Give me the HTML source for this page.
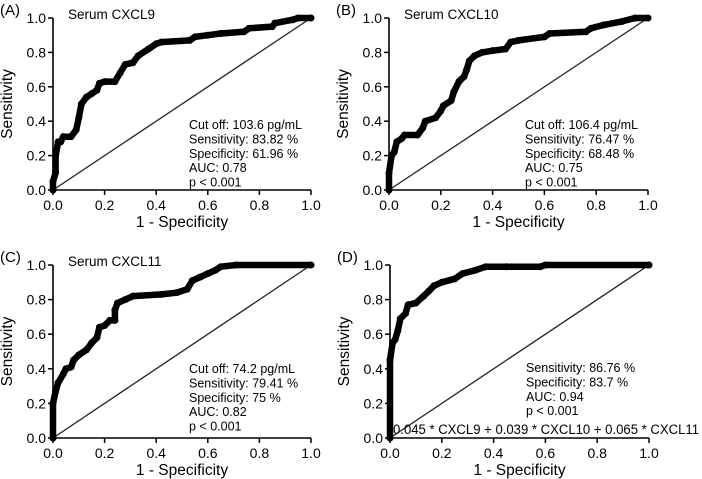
<!DOCTYPE html>
<html><head><meta charset="utf-8"><style>
html,body{margin:0;padding:0;background:#fff}
svg{display:block;font-family:"Liberation Sans",Arial,sans-serif}
</style></head><body>
<svg id="c" width="702" height="479" viewBox="0 0 702 479"></svg>
<script>
const ticks=[0,0.2,0.4,0.6,0.8,1.0];
const tickLabels=["0.0","0.2","0.4","0.6","0.8","1.0"];
const fprA=[0,0,0.01,0.01,0.02,0.03,0.04,0.07,0.09,0.1,0.11,0.13,0.15,0.17,0.18,0.2,0.24,0.26,0.28,0.31,0.33,0.37,0.4,0.42,0.53,0.55,0.6,0.65,0.74,0.76,0.85,0.86,0.93,0.95,1];
const tprA=[0,0.05,0.1,0.2,0.28,0.28,0.31,0.31,0.35,0.42,0.5,0.54,0.56,0.58,0.62,0.63,0.63,0.68,0.73,0.74,0.78,0.82,0.85,0.86,0.87,0.89,0.9,0.91,0.92,0.94,0.95,0.97,0.99,1,1];
const fprB=[0,0,0.01,0.02,0.03,0.05,0.06,0.11,0.13,0.14,0.18,0.2,0.21,0.24,0.25,0.27,0.29,0.3,0.31,0.33,0.36,0.4,0.45,0.47,0.5,0.6,0.62,0.76,0.78,0.83,0.9,0.95,1];
const tprB=[0,0.1,0.2,0.22,0.28,0.3,0.32,0.32,0.36,0.4,0.42,0.46,0.49,0.52,0.57,0.63,0.66,0.7,0.75,0.78,0.8,0.81,0.82,0.86,0.87,0.89,0.91,0.92,0.94,0.96,0.98,1,1];
const fprC=[0,0,0.01,0.02,0.04,0.05,0.07,0.08,0.1,0.13,0.15,0.17,0.18,0.2,0.22,0.24,0.24,0.25,0.28,0.31,0.42,0.48,0.52,0.54,0.57,0.6,0.63,0.65,0.71,1];
const tprC=[0,0.2,0.27,0.32,0.37,0.4,0.41,0.45,0.48,0.51,0.55,0.58,0.64,0.65,0.68,0.68,0.74,0.78,0.8,0.82,0.83,0.84,0.86,0.91,0.93,0.95,0.97,0.99,1,1];
const fprD=[0,0,0.01,0.02,0.03,0.04,0.06,0.07,0.1,0.13,0.15,0.17,0.2,0.25,0.28,0.33,0.37,0.45,0.58,0.6,1];
const tprD=[0,0.45,0.55,0.57,0.62,0.69,0.72,0.77,0.78,0.82,0.85,0.88,0.9,0.92,0.95,0.97,0.99,0.99,0.99,1,1];
const NS="http://www.w3.org/2000/svg";
const svg=document.getElementById('c');
function mk(tag,attrs,parent,text){const e=document.createElementNS(NS,tag);for(const k in attrs)e.setAttribute(k,attrs[k]);if(text!==undefined)e.textContent=text;parent.appendChild(e);return e;}
const panels=[
 {id:'a',letter:'(A)',x0:53,x1:311,y0:190,y1:18,title:'Serum CXCL9',fpr:fprA,tpr:tprA,tx:189,ty:129,lines:['Cut off: 103.6 pg/mL','Sensitivity: 83.82 %','Specificity: 61.96 %','AUC: 0.78','p < 0.001']},
 {id:'b',letter:'(B)',x0:389,x1:648,y0:190,y1:18,title:'Serum CXCL10',fpr:fprB,tpr:tprB,tx:525,ty:129,lines:['Cut off: 106.4 pg/mL','Sensitivity: 76.47 %','Specificity: 68.48 %','AUC: 0.75','p < 0.001']},
 {id:'c',letter:'(C)',x0:53,x1:311,y0:438,y1:265,title:'Serum CXCL11',fpr:fprC,tpr:tprC,tx:189,ty:373,lines:['Cut off: 74.2 pg/mL','Sensitivity: 79.41 %','Specificity: 75 %','AUC: 0.82','p < 0.001']},
 {id:'d',letter:'(D)',x0:390,x1:649,y0:438,y1:265,title:'',fpr:fprD,tpr:tprD,tx:526,ty:372,lines:['Sensitivity: 86.76 %','Specificity: 83.7 %','AUC: 0.94','p < 0.001']}
];
panels.forEach(p=>{
 const g=mk('g',{},svg);
 
 
 const sx=v=>p.x0+v*(p.x1-p.x0), sy=v=>p.y0+v*(p.y1-p.y0);
 const lab=mk('text',{x:p.x0-53,y:p.y1-3,'font-size':15},g,p.letter);
 
 
 const dg=mk('line',{x1:sx(0),y1:sy(0),x2:sx(1),y2:sy(1),stroke:'#222','stroke-width':1.3},g);
 
 
 const ax=mk('path',{d:`M${sx(0)},${sy(1)}V${sy(0)}H${sx(1)}`,stroke:'#000','stroke-width':1.6,fill:'none'},g);
 
 
 ticks.forEach((t,i)=>{
  mk('line',{x1:sx(t),y1:sy(0),x2:sx(t),y2:sy(0)+5,stroke:'#000','stroke-width':1.5},g);
  mk('line',{x1:sx(0)-5,y1:sy(t),x2:sx(0),y2:sy(t),stroke:'#000','stroke-width':1.5},g);
  const xt=mk('text',{x:sx(t),y:sy(0)+20,'font-size':14,'text-anchor':'middle'},g,tickLabels[i]);
  
  
  const yt=mk('text',{x:sx(0)-7,y:sy(t)+5,'font-size':14,'text-anchor':'end'},g,tickLabels[i]);
  
  
 });
 const xtl=mk('text',{x:(sx(0)+sx(1))/2,y:sy(0)+37,'font-size':15.5,'text-anchor':'middle'},g,'1 - Specificity');
 
 
 const ym=(sy(0)+sy(1))/2, yx=p.x0-41;
 const ytl=mk('text',{x:yx,y:ym,'font-size':15.5,'text-anchor':'middle',transform:`rotate(-90 ${yx} ${ym})`},g,'Sensitivity');
 
 
 if(p.title){const tt=mk('text',{x:p.x0+15,y:p.y1+1,'font-size':13.5},g,p.title);
  
  }
 const d=p.fpr.map((f,i)=>(i?'L':'M')+sx(f).toFixed(1)+','+sy(p.tpr[i]).toFixed(1)).join('');
 const cv=mk('path',{d:d,stroke:'#000','stroke-width':6.5,fill:'none','stroke-linejoin':'round','stroke-linecap':'round'},g);
 
 
 p.fpr.forEach((f,i)=>{const c=mk('circle',{cx:sx(f),cy:sy(p.tpr[i]),r:3.5,fill:'#000'},g);
  
  });
 const st=mk('g',{},g);
 
 
 p.lines.forEach((l,i)=>mk('text',{x:p.tx,y:p.ty+i*14.4,'font-size':12.5},st,l));
 if(p.id==='d'){const f=mk('text',{x:393,y:434,'font-size':13.5,textLength:306,lengthAdjust:'spacingAndGlyphs'},g,'0.045 * CXCL9 + 0.039 * CXCL10 + 0.065 * CXCL11');
  
  }
});
</script>
</body></html>
